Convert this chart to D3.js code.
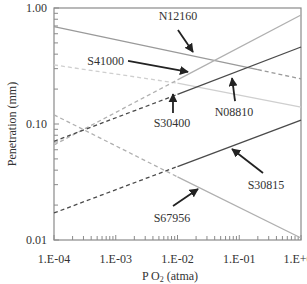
<!DOCTYPE html>
<html>
<head>
<meta charset="utf-8">
<script src="https://cdn.jsdelivr.net/npm/d3@7"></script>
<style>
  html, body { margin: 0; padding: 0; background: #fff; }
  svg text { font-family: "Liberation Serif", "Times New Roman", Times, serif; }
</style>
</head>
<body>
<svg width="307" height="284"></svg>
<script>
// x ticks (P O2) and y ticks (penetration)
const xTicks = [1e-4, 1e-3, 1e-2, 1e-1, 1];
const xTickLabels = ["1.E-04", "1.E-03", "1.E-02", "1.E-01", "1.E+00"];
const yTicks = [0.01, 0.1, 1];
const yTickLabels = ["0.01", "0.10", "1.00"];

// each line: [pO2, penetration] points, style per segment
const lineN12160 = [[1e-4, 0.69], [0.2, 0.294], [1, 0.245]];
const lineN08810 = [[1e-4, 0.323], [1e-2, 0.225], [1, 0.14]];
const lineS41000 = [[1e-4, 0.066], [1e-2, 0.24], [1, 0.87]];
const lineS30400 = [[1e-4, 0.071], [1e-2, 0.18], [1, 0.461]];
const lineS30815 = [[1e-4, 0.0171], [1e-2, 0.043], [1, 0.108]];
const lineS67956 = [[1e-4, 0.12], [1e-2, 0.035], [1, 0.0104]];

const series = [
  { pts: lineN12160, color: "#9a9a9a", dash: [false, true] },
  { pts: lineN08810, color: "#cfcfcf", dash: [true, false] },
  { pts: lineS41000, color: "#b0b0b0", dash: [true, false] },
  { pts: lineS30400, color: "#4a4a4a", dash: [true, false] },
  { pts: lineS30815, color: "#4a4a4a", dash: [true, false] },
  { pts: lineS67956, color: "#b0b0b0", dash: [true, false] }
];

// labels with arrow tips (data coords)
const notes = [
  { text: "N12160", tip: [0.0178, 0.418], tail: [-15, -22], lab: [0, -10], anchor: "middle" },
  { text: "S41000", tip: [0.0148, 0.281], tail: [-60, -11], lab: [-4, 4], anchor: "end" },
  { text: "S30400", tip: [0.00845, 0.181], tail: [0, 19], lab: [-1, 14], anchor: "middle" },
  { text: "N08810", tip: [0.0764, 0.249], tail: [3, 23], lab: [-1, 15], anchor: "middle" },
  { text: "S30815", tip: [0.0764, 0.0609], tail: [31, 24], lab: [3, 16], anchor: "middle" },
  { text: "S67956", tip: [0.0215, 0.0275], tail: [-25, 17], lab: [-1, 16], anchor: "middle" }
];

const serif = "'Liberation Serif', 'Times New Roman', Times, serif";
const svg = d3.select("svg");
const pLeft = 54, pRight = 301, pTop = 8, pBottom = 240;

const x = d3.scaleLog().domain([1e-4, 1]).range([pLeft, pRight]);
const y = d3.scaleLog().domain([0.01, 1]).range([pBottom, pTop]);

// minor ticks
const xMinor = [];
for (let e = -4; e < 0; e++) for (let m = 2; m <= 9; m++) xMinor.push(m * Math.pow(10, e));
const yMinor = [];
for (let e = -2; e < 0; e++) for (let m = 2; m <= 9; m++) yMinor.push(m * Math.pow(10, e));

const axisColor = "#8a8a8a";

// frame
svg.append("rect")
  .attr("x", pLeft).attr("y", pTop)
  .attr("width", pRight - pLeft).attr("height", pBottom - pTop)
  .attr("fill", "none").attr("stroke", axisColor).attr("stroke-width", 1.2);

// x axis ticks (inside)
svg.append("g").selectAll("line").data(xMinor).enter().append("line")
  .attr("x1", d => x(d)).attr("x2", d => x(d))
  .attr("y1", pBottom).attr("y2", pBottom - 4)
  .attr("stroke", axisColor);
svg.append("g").selectAll("line").data(xTicks).enter().append("line")
  .attr("x1", d => x(d)).attr("x2", d => x(d))
  .attr("y1", pBottom).attr("y2", pBottom - 5)
  .attr("stroke", axisColor);
svg.append("g").selectAll("text").data(xTicks).enter().append("text")
  .attr("x", d => x(d)).attr("y", pBottom + 23)
  .attr("font-family", serif)
  .attr("text-anchor", "middle").attr("font-size", 12).attr("fill", "#333")
  .text((d, i) => xTickLabels[i]);

// y axis ticks (inside)
svg.append("g").selectAll("line").data(yMinor).enter().append("line")
  .attr("x1", pLeft).attr("x2", pLeft + 4)
  .attr("y1", d => y(d)).attr("y2", d => y(d))
  .attr("stroke", axisColor);
svg.append("g").selectAll("line").data(yTicks).enter().append("line")
  .attr("x1", pLeft).attr("x2", pLeft + 5)
  .attr("y1", d => y(d)).attr("y2", d => y(d))
  .attr("stroke", axisColor);
svg.append("g").selectAll("text").data(yTicks).enter().append("text")
  .attr("x", pLeft - 7).attr("y", d => y(d) + 4)
  .attr("font-family", serif)
  .attr("text-anchor", "end").attr("font-size", 12).attr("fill", "#333")
  .text((d, i) => yTickLabels[i]);

// axis titles
const xt = svg.append("text")
  .attr("x", 170).attr("y", 280)
  .attr("font-family", serif)
  .attr("text-anchor", "middle").attr("font-size", 12).attr("fill", "#333");
xt.append("tspan").text("P O");
xt.append("tspan").attr("font-size", 8).attr("dy", 2).text("2");
xt.append("tspan").attr("dy", -2).text(" (atma)");

svg.append("text")
  .attr("transform", `translate(16, ${(pTop + pBottom) / 2}) rotate(-90)`)
  .attr("font-family", serif)
  .attr("text-anchor", "middle").attr("font-size", 12).attr("fill", "#333")
  .text("Penetration (mm)");

// lines
const line = d3.line().x(d => x(d[0])).y(d => y(d[1]));
const lg = svg.append("g");
series.forEach(s => {
  for (let i = 0; i < s.pts.length - 1; i++) {
    lg.append("path")
      .attr("d", line([s.pts[i], s.pts[i + 1]]))
      .attr("fill", "none")
      .attr("stroke", s.color)
      .attr("stroke-width", 1.3)
      .attr("stroke-dasharray", s.dash[i] ? "4,3" : null);
  }
});

// arrows + labels
const defs = svg.append("defs");
defs.append("marker")
  .attr("id", "arr").attr("viewBox", "0 0 10 10")
  .attr("refX", 9).attr("refY", 5)
  .attr("markerWidth", 5).attr("markerHeight", 5)
  .attr("orient", "auto")
  .append("path").attr("d", "M0,0L10,5L0,10z").attr("fill", "#222");

const ng = svg.append("g");
notes.forEach(n => {
  const tx = x(n.tip[0]), ty = y(n.tip[1]);
  const sx = tx + n.tail[0], sy = ty + n.tail[1];
  ng.append("line")
    .attr("x1", sx).attr("y1", sy).attr("x2", tx).attr("y2", ty)
    .attr("stroke", "#222").attr("stroke-width", 1.8)
    .attr("marker-end", "url(#arr)");
  ng.append("text")
    .attr("x", sx + n.lab[0]).attr("y", sy + n.lab[1])
    .attr("font-family", serif)
    .attr("text-anchor", n.anchor).attr("font-size", 12).attr("fill", "#333")
    .text(n.text);
});
</script>
</body>
</html>
